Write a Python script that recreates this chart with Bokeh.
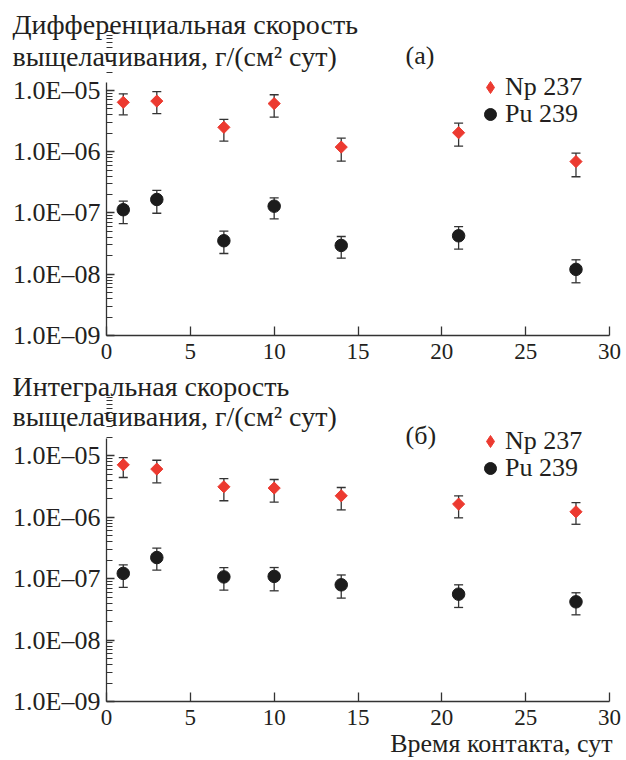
from math import pi
from bokeh.plotting import figure
from bokeh.models import (Range1d, FixedTicker, Whisker, TeeHead, ColumnDataSource,
                          Label, Legend, LegendItem)
from bokeh.layouts import column
from bokeh.embed import file_html
from bokeh.resources import INLINE

# ---------------- data ----------------
days = [1, 3, 7, 10, 14, 21, 28]

diff_np = [6.4e-6, 6.7e-6, 2.5e-6, 6.1e-6, 1.19e-6, 2.04e-6, 6.9e-7]
diff_np_lo = [4.0e-6, 4.17e-6, 1.49e-6, 3.66e-6, 7.0e-7, 1.23e-6, 3.9e-7]
diff_np_hi = [8.8e-6, 9.6e-6, 3.36e-6, 8.5e-6, 1.66e-6, 2.92e-6, 9.5e-7]
diff_pu = [1.13e-7, 1.66e-7, 3.52e-8, 1.29e-7, 2.95e-8, 4.24e-8, 1.2e-8]
diff_pu_lo = [6.7e-8, 9.9e-8, 2.18e-8, 8.0e-8, 1.83e-8, 2.56e-8, 7.25e-9]
diff_pu_hi = [1.56e-7, 2.33e-7, 5.05e-8, 1.77e-7, 4.13e-8, 6.0e-8, 1.72e-8]

int_np = [7.16e-6, 6.1e-6, 3.14e-6, 2.99e-6, 2.24e-6, 1.64e-6, 1.23e-6]
int_np_lo = [4.45e-6, 3.65e-6, 1.86e-6, 1.77e-6, 1.32e-6, 9.8e-7, 7.7e-7]
int_np_hi = [9.4e-6, 8.5e-6, 4.28e-6, 4.13e-6, 3.06e-6, 2.24e-6, 1.74e-6]
int_pu = [1.22e-7, 2.21e-7, 1.07e-7, 1.09e-7, 7.95e-8, 5.6e-8, 4.2e-8]
int_pu_lo = [7.2e-8, 1.38e-7, 6.5e-8, 6.35e-8, 4.83e-8, 3.4e-8, 2.58e-8]
int_pu_hi = [1.68e-7, 3.15e-7, 1.52e-7, 1.52e-7, 1.15e-7, 7.95e-8, 5.9e-8]

series_names = ["Np 237", "Pu 239"]
x_ticks = [0, 5, 10, 15, 20, 25, 30]
y_ticks = [1e-9, 1e-8, 1e-7, 1e-6, 1e-5]
y_tick_labels = ["1.0E\u201309", "1.0E\u201308", "1.0E\u201307", "1.0E\u201306", "1.0E\u201305"]
y_minor = [m * t for t in y_ticks for m in range(2, 10)]

title_a = ["Дифференциальная скорость", "выщелачивания, г/(см² сут)"]
title_b = ["Интегральная скорость", "выщелачивания, г/(см² сут)"]
tag_a = "(а)"
tag_b = "(б)"
x_label = "Время контакта, сут"

RED = "#ec3a30"
BLACK = "#1c1c1c"
TEXT = "#231f20"
AX = "#333333"
FONT = "Liberation Serif"

# layout constants (view ranges chosen so the frame fills the canvas)
X_VIEW = (-6.322, 31.013)


def make_panel(npv, nplo, nphi, puv, pulo, puhi, titles, tag, y_view, y_axis_top,
               height, t1_y, t2_y, tag_y, leg_np_y, leg_pu_y, xlab_y=None):
    p = figure(width=626, height=height, x_range=Range1d(*X_VIEW),
               y_range=Range1d(*y_view), y_axis_type="log",
               output_backend="svg", toolbar_location=None, min_border=0)
    p.outline_line_color = None
    p.grid.visible = False

    # axes
    xa = p.xaxis[0]
    xa.fixed_location = y_ticks[0]
    xa.bounds = (x_ticks[0], x_ticks[-1])
    xa.ticker = FixedTicker(ticks=x_ticks, minor_ticks=[])
    xa.axis_line_color = AX
    xa.axis_line_width = 1.3
    xa.major_tick_line_color = AX
    xa.major_tick_line_width = 1.3
    xa.major_tick_in = 9
    xa.major_tick_out = 0
    xa.minor_tick_in = 0
    xa.minor_tick_out = 0
    xa.major_label_text_font = FONT
    xa.major_label_text_font_size = "23px"
    xa.major_label_text_color = TEXT
    xa.major_label_standoff = 9

    ya = p.yaxis[0]
    ya.fixed_location = x_ticks[0]
    ya.bounds = (y_ticks[0], y_axis_top)
    ya.ticker = FixedTicker(ticks=y_ticks, minor_ticks=y_minor)
    ya.major_label_overrides = {t: lab for t, lab in zip(y_ticks, y_tick_labels)}
    ya.axis_line_color = AX
    ya.axis_line_width = 1.3
    ya.major_tick_line_color = AX
    ya.major_tick_line_width = 1.3
    ya.minor_tick_line_color = AX
    ya.minor_tick_line_width = 1.1
    ya.major_tick_in = 8
    ya.major_tick_out = 0
    ya.minor_tick_in = 6
    ya.minor_tick_out = 0
    ya.major_label_text_font = FONT
    ya.major_label_text_font_size = "26px"
    ya.major_label_text_color = TEXT
    ya.major_label_standoff = 6

    # error bars
    for lo, hi in ((nplo, nphi), (pulo, puhi)):
        src = ColumnDataSource(dict(x=days, lo=lo, hi=hi))
        w = Whisker(base="x", lower="lo", upper="hi", source=src,
                    line_color=AX, line_width=1.3, level="underlay",
                    upper_head=TeeHead(size=9, line_color=AX, line_width=1.3),
                    lower_head=TeeHead(size=9, line_color=AX, line_width=1.3))
        p.add_layout(w)

    # Np: "diamond" key (used by the legend) hidden under rotated squares
    r_np_key = p.scatter(days, npv, marker="diamond", size=11,
                         fill_color=RED, line_color=RED)
    p.scatter(days, npv, marker="square", angle=pi / 4, size=8.6,
              fill_color=RED, line_color=RED)
    r_pu = p.scatter(days, puv, marker="circle", size=12.5,
                     fill_color=BLACK, line_color=BLACK)

    common = dict(padding=0, margin=0, spacing=0, border_line_alpha=0,
                  background_fill_alpha=0, label_text_font=FONT,
                  label_text_font_size="26px", label_text_color=TEXT,
                  glyph_width=30, glyph_height=30, label_height=30, label_standoff=0)
    lg1 = Legend(items=[LegendItem(label=series_names[0], renderers=[r_np_key])],
                 location=(475, leg_np_y), **common)
    lg2 = Legend(items=[LegendItem(label=series_names[1], renderers=[r_pu])],
                 location=(475, leg_pu_y), **common)
    p.add_layout(lg1)
    p.add_layout(lg2)

    lab = dict(x_units="screen", y_units="screen", text_font=FONT,
               text_color=TEXT, text_baseline="alphabetic")
    p.add_layout(Label(x=12, y=t1_y, text=titles[0], text_font_size="28px", **lab))
    p.add_layout(Label(x=12, y=t2_y, text=titles[1], text_font_size="28px", **lab))
    p.add_layout(Label(x=405, y=tag_y, text=tag, text_font_size="26px", **lab))
    if xlab_y is not None:
        p.add_layout(Label(x=612, y=xlab_y, text=x_label, text_align="right",
                           text_font_size="26px", **lab))
    return p


p1 = make_panel(diff_np, diff_np_lo, diff_np_hi, diff_pu, diff_pu_lo, diff_pu_hi,
                title_a, tag_a, (2.891e-10, 2.94e-4), 1.35e-5, 368,
                344, 312, 313, 266, 239.5)
p2 = make_panel(int_np, int_np_lo, int_np_hi, int_pu, int_pu_lo, int_pu_hi,
                title_b, tag_b, (1.094e-10, 2.652e-4), 1.9e-5, 392,
                374, 344, 325, 304, 277.5, xlab_y=17)

layout = column(p1, p2, spacing=0)
open("out.html", "w").write(file_html(layout, INLINE))
